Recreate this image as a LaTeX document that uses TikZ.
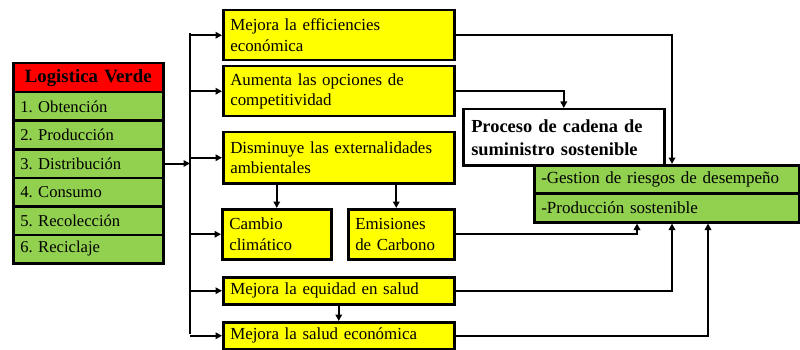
\documentclass[tikz,border=0pt]{standalone}
\usepackage{fontspec}
\setmainfont{Liberation Serif}
\usetikzlibrary{arrows.meta,calc}
\definecolor{lgreen}{HTML}{92D050}
\definecolor{ylw}{HTML}{FFFF00}
\definecolor{rd}{HTML}{FF0000}
\begin{document}
\frenchspacing
\begin{tikzpicture}[x=1pt,y=-1pt,
  bx/.style={draw, line width=2.5pt, anchor=north west, inner xsep=7pt, inner ysep=0pt, align=left, font=\fontsize{16.9}{20.5}\selectfont},
  ybox/.style={bx, fill=ylw},
  gbox/.style={bx, fill=lgreen, text width=136pt, minimum height=28.5pt, font=\fontsize{16.6}{20}\selectfont},
  rbox/.style={bx, fill=rd, text width=136pt, minimum height=29pt, align=center, font=\fontsize{18.8}{20}\selectfont\bfseries},
  pbox/.style={bx, fill=white, inner xsep=8pt, font=\fontsize{18.4}{23}\selectfont\bfseries},
  g2box/.style={bx, fill=lgreen, text width=251pt, font=\fontsize{17}{19}\selectfont},
  plain/.style={line width=2pt},
  conn/.style={line width=2pt, -{Triangle[length=6.5pt,width=6.5pt]}}]
\useasboundingbox (0,0) rectangle (800,350);

% left stack
\node[rbox] (hd) at (12,62) {Logistica Verde};
\node[gbox] (r1) at (12,91) {1. Obtención};
\node[gbox] (r2) at (12,119.5) {2. Producción};
\node[gbox] (r3) at (12,148) {3. Distribución};
\node[gbox] (r4) at (12,176.5) {4. Consumo};
\node[gbox] (r5) at (12,205) {5. Recolección};
\node[gbox] (r6) at (12,233.5) {6. Reciclaje};

% yellow boxes
\node[ybox, text width=217pt, minimum height=50pt] (b1) at (222,9) {Mejora la efficiencies\\económica};
\node[ybox, text width=217pt, minimum height=50pt] (b2) at (222,65) {Aumenta las opciones de\\competitividad};
\node[ybox, text width=217pt, minimum height=51pt] (b3) at (222,131) {Disminuye las externalidades\\ambientales};
\node[ybox, text width=95pt, minimum height=50pt] (cc) at (221,208) {Cambio\\climático};
\node[ybox, text width=92pt, minimum height=50pt] (em) at (347,208) {Emisiones\\de Carbono};
\node[ybox, text width=217pt, minimum height=27pt] (eq) at (222,276) {Mejora la equidad en salud};
\node[ybox, text width=217pt, minimum height=27pt] (se) at (222,321) {Mejora la salud económica};

% right boxes
\node[pbox, text width=185pt, minimum height=56pt] (pr) at (462,108) {Proceso de cadena de\\suministro sostenible};
\node[g2box, minimum height=28pt] (g1) at (533,164) {-Gestion de riesgos de desempeño};
\node[g2box, minimum height=29pt] (g2) at (533,192) {-Producción sostenible};

% bus
\coordinate (bt) at (190,33);
\coordinate (bb) at (190,334);
\draw[plain] (bt) -- (bb);
\draw[conn] (r3.east) -- (r3.east -| bt);
\foreach \n in {b1,b2,b3,cc,eq,se}
  \draw[conn] (\n.west -| bt) -- (\n.west);

% internal arrows
\draw[conn] (cc.north |- b3.south) -- (cc.north);
\draw[conn] ([xshift=-5pt]em.north |- b3.south) -- ([xshift=-5pt]em.north);
\draw[conn] (eq.south) -- (se.north);

% to the right
\draw[conn] (b1.east) -| ([xshift=139pt]g1.north west);
\draw[conn] (b2.east) -| (pr.north);
\draw[conn] (em.east) -| ([xshift=104pt]g2.south west);
\draw[conn] (eq.east) -| ([xshift=139pt]g2.south west);
\draw[conn] (se.east) -| ([xshift=175pt]g2.south west);
\end{tikzpicture}
\end{document}
